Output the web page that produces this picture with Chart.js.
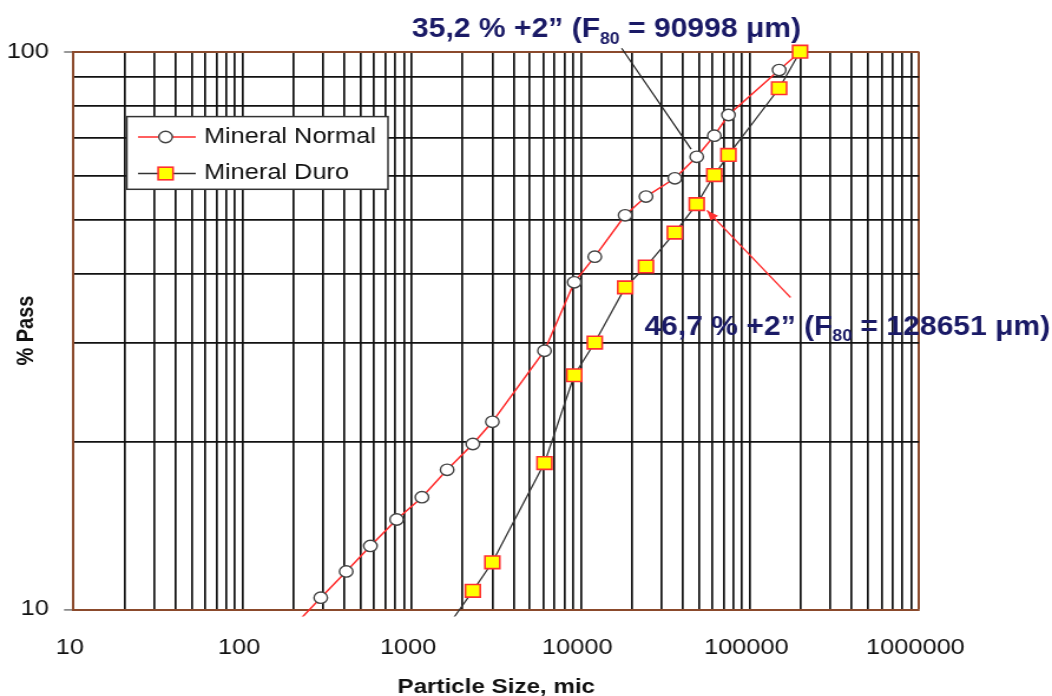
<!DOCTYPE html>
<html><head><meta charset="utf-8">
<script src="https://cdn.jsdelivr.net/npm/chart.js@4.4.1/dist/chart.umd.min.js"></script>
<style>
html,body{margin:0;padding:0;background:#fff;overflow:hidden;}
#c{display:block;}
</style></head><body>
<canvas id="c" width="892" height="696" style="width:1052px;height:696px"></canvas>
<script>
// ---- data ----
const normalSizes = [205, 290, 410, 570, 815, 1150, 1620, 2300, 3000, 6100, 9150, 12100, 18300, 24300, 36000, 48500, 61600, 74700, 149000, 198000];
const normalPass  = [9.4, 10.5, 11.7, 13.0, 14.5, 15.9, 17.8, 19.8, 21.7, 29.1, 38.6, 42.9, 50.9, 55.0, 59.3, 64.8, 70.7, 77.0, 92.7, 100];
const duroSizes   = [1620, 2300, 3000, 6100, 9150, 12100, 18300, 24300, 36000, 48500, 61600, 74700, 149000, 198000];
const duroPass    = [9.3, 10.8, 12.15, 18.3, 26.3, 30.1, 37.8, 41.2, 47.4, 53.3, 60.1, 65.3, 86.0, 100];
const seriesNames = ['Mineral Normal', 'Mineral Duro'];
const xDecades = [10, 100, 1000, 10000, 100000];
const gridMultipliers = [1, 2, 3, 4, 5, 6, 7, 8, 9];
const xMaxTick = 1000000;
const xTickLabels = ['10', '100', '1000', '10000', '100000', '1000000'];
const yGridTicks = [10, 20, 30, 40, 50, 60, 70, 80, 90, 100];
const yTickLabels = ['10', '100'];
const xTitle = 'Particle Size, mic';
const yTitle = '% Pass';
const note1 = ['35,2 % +2\u201D (F', '80', ' = 90998 \u03BCm)'];
const note2 = ['46,7 % +2\u201D (F', '80', ' = 128651 \u03BCm)'];
const noteAnchor = 48500;          // 2" sieve
const note1Pass = 64.8, note2Pass = 53.3;

// ---- derived ----
const xGridTicks = [];
xDecades.forEach(d => gridMultipliers.forEach(m => xGridTicks.push(d * m)));
xGridTicks.push(xMaxTick);

const BROWN = '#8b4a2c';
const GRID = '#111111';
const NAVY = '#1a1a66';
const FONT = "'Liberation Sans', Arial, sans-serif";
const RED = '#ff2a2a';
const DARK = '#333333';

const isXLabel = v => xTickLabels.some(l => Number(l) === v);
const isYLabel = v => yTickLabels.some(l => Number(l) === v);

const hideBelow = ctx => (ctx.raw && ctx.raw.y < 10) ? 0 : undefined;

const overlay = {
  id: 'overlay',
  afterDraw(chart) {
    const ctx = chart.ctx;
    const xs = chart.scales.x, ys = chart.scales.y;
    ctx.save();
    // legend box
    const L = 107.5, T = 116.6, R = 329, B = 189.3;
    ctx.fillStyle = '#fff';
    ctx.fillRect(L, T, R - L, B - T);
    ctx.strokeStyle = '#333';
    ctx.lineWidth = 1.5;
    ctx.strokeRect(L, T, R - L, B - T);
    const rows = [137, 173.5];
    // row 1
    ctx.strokeStyle = RED; ctx.lineWidth = 1.5;
    ctx.beginPath(); ctx.moveTo(117, rows[0]); ctx.lineTo(166, rows[0]); ctx.stroke();
    ctx.beginPath(); ctx.arc(140.4, rows[0], 5.7, 0, Math.PI * 2);
    ctx.fillStyle = '#fff'; ctx.fill(); ctx.strokeStyle = '#444'; ctx.lineWidth = 1.4; ctx.stroke();
    // row 2
    ctx.strokeStyle = DARK; ctx.lineWidth = 1.3;
    ctx.beginPath(); ctx.moveTo(117, rows[1]); ctx.lineTo(166, rows[1]); ctx.stroke();
    ctx.fillStyle = '#ffff00'; ctx.fillRect(140.4 - 6.3, rows[1] - 6.3, 12.6, 12.6);
    ctx.strokeStyle = '#ff3030'; ctx.lineWidth = 1.6; ctx.strokeRect(140.4 - 6.3, rows[1] - 6.3, 12.6, 12.6);
    ctx.fillStyle = '#111';
    ctx.font = '21.5px ' + FONT;
    ctx.textBaseline = 'middle'; ctx.textAlign = 'left';
    ctx.fillText(seriesNames[0], 172.9, rows[0]);
    ctx.fillText(seriesNames[1], 172.9, rows[1]);

    // annotation texts
    function rich(parts, x, base) {
      ctx.save();
      ctx.translate(x, base);
      ctx.scale(1, 1.1);
      ctx.fillStyle = NAVY;
      ctx.textBaseline = 'alphabetic'; ctx.textAlign = 'left';
      let cx = 0;
      ctx.font = 'bold 25.5px ' + FONT;
      ctx.fillText(parts[0], cx, 0); cx += ctx.measureText(parts[0]).width;
      ctx.font = 'bold 15px ' + FONT;
      ctx.fillText(parts[1], cx, 6); cx += ctx.measureText(parts[1]).width;
      ctx.font = 'bold 25.5px ' + FONT;
      ctx.fillText(parts[2], cx, 0);
      ctx.restore();
    }
    rich(note1, 349.3, 37);
    rich(note2, 546.4, 334.7);

    // leader line 1 (black)
    const p1x = xs.getPixelForValue(noteAnchor), p1y = ys.getPixelForValue(note1Pass);
    ctx.strokeStyle = '#222'; ctx.lineWidth = 1.2;
    ctx.beginPath(); ctx.moveTo(527.1, 48.3); ctx.lineTo(p1x - 4.8, p1y - 7.7); ctx.stroke();

    // leader arrow 2 (red)
    const p2x = xs.getPixelForValue(noteAnchor) + 8.7, p2y = ys.getPixelForValue(note2Pass) + 6.3;
    const sx = 670.3, sy = 297.5;
    ctx.strokeStyle = '#ff3030'; ctx.lineWidth = 1.3;
    ctx.beginPath(); ctx.moveTo(sx, sy); ctx.lineTo(p2x, p2y); ctx.stroke();
    const ang = Math.atan2(p2y - sy, p2x - sx);
    const hl = 10, hw = 4;
    ctx.fillStyle = '#ff3030';
    ctx.beginPath();
    ctx.moveTo(p2x, p2y);
    ctx.lineTo(p2x - hl * Math.cos(ang) + hw * Math.sin(ang), p2y - hl * Math.sin(ang) - hw * Math.cos(ang));
    ctx.lineTo(p2x - hl * Math.cos(ang) - hw * Math.sin(ang), p2y - hl * Math.sin(ang) + hw * Math.cos(ang));
    ctx.closePath(); ctx.fill();
    ctx.restore();
  }
};

new Chart(document.getElementById('c'), {
  type: 'line',
  data: {
    datasets: [
      {
        label: seriesNames[0],
        data: normalSizes.map((s, i) => ({x: s, y: normalPass[i]})),
        borderColor: RED, borderWidth: 1.5,
        pointStyle: 'circle',
        pointRadius: ctx => hideBelow(ctx) ?? 5.7,
        pointBackgroundColor: '#fff', pointBorderColor: '#444', pointBorderWidth: 1.4,
        tension: 0, order: 1,
        clip: {left: 10, top: 12, right: 10, bottom: 7}
      },
      {
        label: seriesNames[1],
        data: duroSizes.map((s, i) => ({x: s, y: duroPass[i]})),
        borderColor: DARK, borderWidth: 1.3,
        pointStyle: 'rect',
        pointRadius: ctx => hideBelow(ctx) ?? 8.9,
        pointBackgroundColor: '#ffff00', pointBorderColor: '#ff3030', pointBorderWidth: 1.6,
        tension: 0, order: 0,
        clip: {left: 10, top: 12, right: 10, bottom: 7}
      }
    ]
  },
  options: {
    responsive: false,
    devicePixelRatio: 1,
    animation: false,
    events: [],
    layout: {padding: {left: 0, top: 51.7, right: 112.8, bottom: 0}},
    plugins: {legend: {display: false}, tooltip: {enabled: false}},
    scales: {
      x: {
        type: 'logarithmic', min: 10, max: xMaxTick,
        afterBuildTicks: s => { s.ticks = xGridTicks.map(v => ({value: v})); },
        afterFit: s => { s.height = 86.5; },
        grid: {
          color: c => (c.tick && c.tick.value === xMaxTick) ? BROWN : GRID,
          lineWidth: c => (c.tick && c.tick.value === xMaxTick) ? 2 : 1.7,
          drawTicks: false
        },
        border: {display: true, color: BROWN, width: 2},
        ticks: {
          autoSkip: false, maxRotation: 0, minRotation: 0,
          padding: 26, labelOffset: -3,
          color: '#111', font: {family: FONT, size: 21.5},
          callback: v => isXLabel(v) ? String(v) : ''
        },
        title: {display: true, text: xTitle, color: '#111',
          font: {family: FONT, size: 20.5, weight: 'bold', lineHeight: 0.8}, padding: 0}
      },
      y: {
        type: 'logarithmic', min: 10, max: 100,
        afterBuildTicks: s => { s.ticks = yGridTicks.map(v => ({value: v})); },
        afterFit: s => { s.width = 62.3; },
        grid: {
          color: c => (c.tick && c.tick.value === 100) ? BROWN : GRID,
          lineWidth: c => (c.tick && c.tick.value === 100) ? 2 : 1.8,
          drawTicks: true, tickLength: 8, tickWidth: 1.5,
          tickColor: c => (c.tick && isYLabel(c.tick.value)) ? '#777' : 'rgba(0,0,0,0)'
        },
        border: {display: true, color: BROWN, width: 2},
        ticks: {
          autoSkip: false, padding: 12.8,
          color: '#111', font: {family: FONT, size: 21.5},
          callback: v => isYLabel(v) ? String(v) : ''
        },
        title: {display: true, text: yTitle, color: '#111',
          font: {family: FONT, size: 20, weight: 'bold', lineHeight: 1.2}, padding: {top: 10, bottom: 0}}
      }
    }
  },
  plugins: [overlay]
});
</script>
</body></html>
